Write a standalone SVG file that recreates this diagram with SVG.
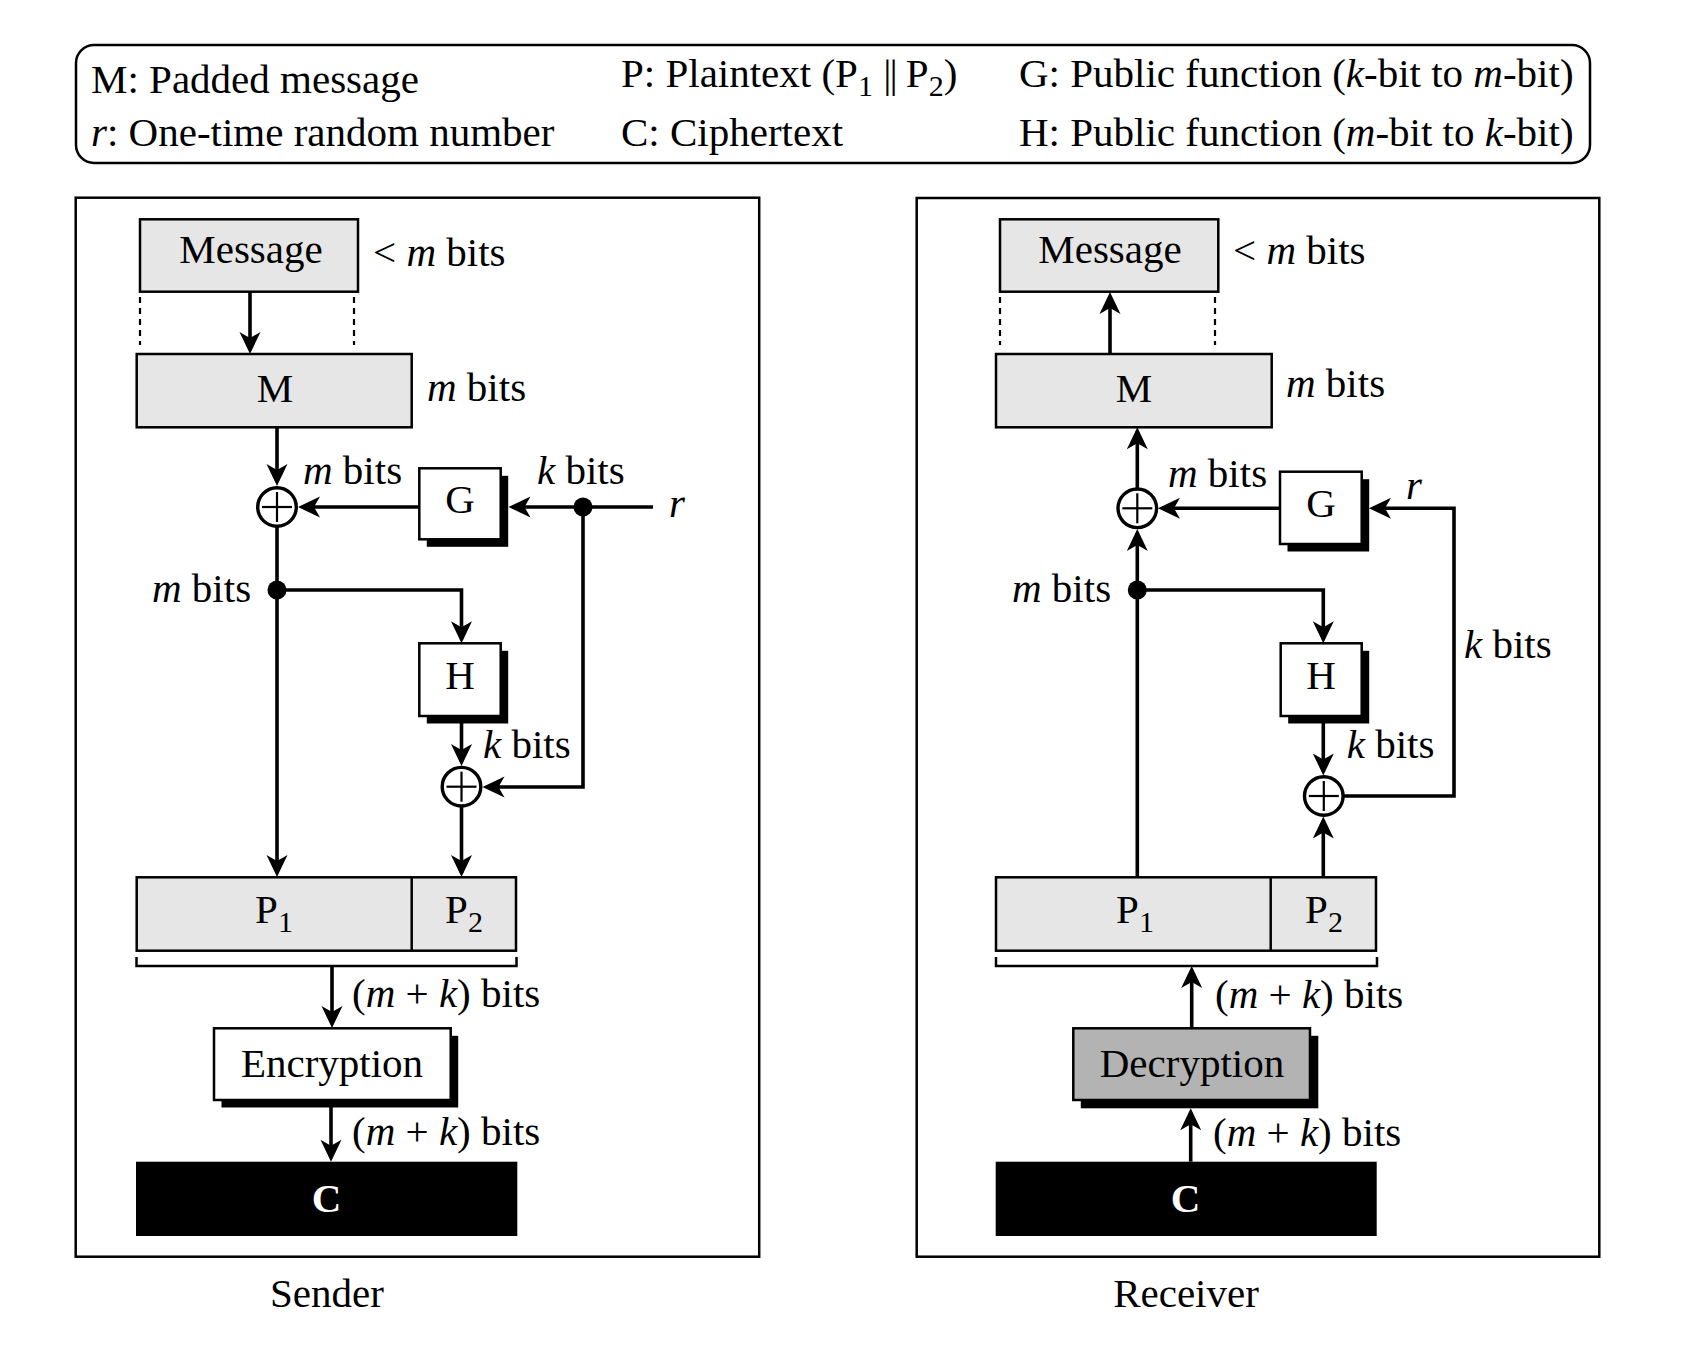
<svg xmlns="http://www.w3.org/2000/svg" width="1694" height="1348" viewBox="0 0 1694 1348">
<style>
.t{font-family:"Liberation Serif","Times New Roman",serif;font-size:41px;fill:#000}
.c{text-anchor:middle}
.i{font-style:italic}
.sub{font-size:30px}
.box{stroke:#000;stroke-width:2.5}
.gray{fill:#e6e6e6}
.wh{fill:#fff}
.conn{stroke:#000;stroke-width:3.6;fill:none}
.dash{stroke:#000;stroke-width:2.2;stroke-dasharray:6 5;fill:none}
.panel{fill:none;stroke:#000;stroke-width:2.5}
.xor{fill:#fff;stroke:#000;stroke-width:3.4}
.plus{stroke:#000;stroke-width:2.2}
</style>
<defs>
<marker id="ah" viewBox="-20 -12 26 24" refX="0" refY="0" markerWidth="26" markerHeight="24" markerUnits="userSpaceOnUse" orient="auto">
<path d="M4,0 L-18,-10.5 L-12,0 L-18,10.5 Z" fill="#000"/>
</marker>
<g id="xorsym">
<circle r="19.3" class="xor"/>
<line x1="-15" y1="0" x2="15" y2="0" class="plus"/>
<line x1="0" y1="-15" x2="0" y2="15" class="plus"/>
</g>
</defs>
<rect width="1694" height="1348" fill="#fff"/>

<g id="legend">
<rect x="76" y="45" width="1514" height="118" rx="18" ry="18" fill="none" stroke="#000" stroke-width="2.5"/>
<text class="t" x="91" y="93">M: Padded message</text>
<text class="t" x="91" y="146"><tspan class="i">r</tspan>: One-time random number</text>
<text class="t" x="621" y="87">P: Plaintext (P<tspan class="sub" dy="9">1</tspan><tspan dy="-9"> </tspan><tspan letter-spacing="-2">||</tspan> P<tspan class="sub" dy="9">2</tspan><tspan dy="-9">)</tspan></text>
<text class="t" x="621" y="146">C: Ciphertext</text>
<text class="t" x="1019" y="87">G: Public function (<tspan class="i">k</tspan>-bit to <tspan class="i">m</tspan>-bit)</text>
<text class="t" x="1019" y="146">H: Public function (<tspan class="i">m</tspan>-bit to <tspan class="i">k</tspan>-bit)</text>
</g>

<g id="sender-panel">
<rect x="75.7" y="197.7" width="683.5" height="1059" class="panel"/>
<text class="t c" x="327" y="1307">Sender</text>
</g>
<g id="receiver-panel">
<rect x="916.7" y="198" width="682.6" height="1058.7" class="panel"/>
<text class="t c" x="1186" y="1307">Receiver</text>
</g>

<g id="connectors">
<!-- sender -->
<line x1="140" y1="297" x2="140" y2="345" class="dash"/>
<line x1="354" y1="297" x2="354" y2="345" class="dash"/>
<line x1="250" y1="292" x2="250" y2="350" class="conn" marker-end="url(#ah)"/>
<line x1="277" y1="427" x2="277" y2="482" class="conn" marker-end="url(#ah)"/>
<line x1="419.3" y1="507" x2="302" y2="507" class="conn" marker-end="url(#ah)"/>
<line x1="653" y1="507" x2="512.5" y2="507" class="conn" marker-end="url(#ah)"/>
<line x1="277" y1="526" x2="277" y2="873" class="conn" marker-end="url(#ah)"/>
<path d="M277,590 H461.5 V639.3" class="conn" marker-end="url(#ah)"/>
<line x1="461.5" y1="716" x2="461.5" y2="762" class="conn" marker-end="url(#ah)"/>
<path d="M583,507 V787 H486.5" class="conn" marker-end="url(#ah)"/>
<line x1="461.5" y1="806" x2="461.5" y2="873" class="conn" marker-end="url(#ah)"/>
<path d="M136.5,957 V966 H516.5 V957" fill="none" stroke="#000" stroke-width="2.5"/>
<line x1="332" y1="966" x2="332" y2="1024" class="conn" marker-end="url(#ah)"/>
<line x1="331" y1="1100" x2="331" y2="1157.7" class="conn" marker-end="url(#ah)"/>
<!-- receiver -->
<line x1="1000" y1="297" x2="1000" y2="345" class="dash"/>
<line x1="1215" y1="297" x2="1215" y2="345" class="dash"/>
<line x1="1110" y1="354" x2="1110" y2="296" class="conn" marker-end="url(#ah)"/>
<line x1="1137.3" y1="489" x2="1137.3" y2="431.3" class="conn" marker-end="url(#ah)"/>
<line x1="1280" y1="508.3" x2="1162" y2="508.3" class="conn" marker-end="url(#ah)"/>
<path d="M1343,796 H1454 V508.3 H1373" class="conn" marker-end="url(#ah)"/>
<line x1="1137.3" y1="877" x2="1137.3" y2="533" class="conn" marker-end="url(#ah)"/>
<path d="M1137.3,590 H1323.3 V639.3" class="conn" marker-end="url(#ah)"/>
<line x1="1323.3" y1="716" x2="1323.3" y2="771.5" class="conn" marker-end="url(#ah)"/>
<line x1="1323.3" y1="877" x2="1323.3" y2="820.5" class="conn" marker-end="url(#ah)"/>
<path d="M996,957 V966 H1377 V957" fill="none" stroke="#000" stroke-width="2.5"/>
<line x1="1191.7" y1="1028.3" x2="1191.7" y2="970" class="conn" marker-end="url(#ah)"/>
<line x1="1190.7" y1="1161.7" x2="1190.7" y2="1112.3" class="conn" marker-end="url(#ah)"/>
</g>

<!-- sender nodes -->
<g id="s-message">
<rect x="140" y="219.3" width="218" height="72.4" class="box gray"/>
<text class="t c" x="251" y="263">Message</text>
<text class="t" x="373" y="266">&lt; <tspan class="i">m</tspan> bits</text>
</g>
<g id="s-M">
<rect x="136.7" y="354" width="275" height="73.3" class="box gray"/>
<text class="t c" x="275" y="401.5">M</text>
<text class="t" x="427" y="401"><tspan class="i">m</tspan> bits</text>
</g>
<g id="s-xor1">
<use href="#xorsym" x="277" y="507"/>
<text class="t" x="303" y="484"><tspan class="i">m</tspan> bits</text>
</g>
<g id="s-G">
<rect x="426.8" y="475.8" width="81.4" height="71" fill="#000"/>
<rect x="419.3" y="468.3" width="81.4" height="71" class="box wh"/>
<text class="t c" x="460" y="513.3">G</text>
</g>
<g id="s-r">
<circle cx="583" cy="507" r="9.5" fill="#000"/>
<text class="t" x="537" y="484"><tspan class="i">k</tspan> bits</text>
<text class="t i" x="669" y="517">r</text>
</g>
<g id="s-junction">
<circle cx="277" cy="590" r="9.5" fill="#000"/>
<text class="t" x="152" y="601.7"><tspan class="i">m</tspan> bits</text>
</g>
<g id="s-H">
<rect x="426.8" y="650.8" width="81.4" height="72.7" fill="#000"/>
<rect x="419.3" y="643.3" width="81.4" height="72.7" class="box wh"/>
<text class="t c" x="460" y="689.3">H</text>
<text class="t" x="483" y="758.3"><tspan class="i">k</tspan> bits</text>
</g>
<g id="s-xor2">
<use href="#xorsym" x="461.5" y="786.7"/>
</g>
<g id="s-P">
<rect x="136.7" y="877.3" width="379.3" height="73.4" class="box gray"/>
<line x1="411.7" y1="877.3" x2="411.7" y2="950.7" stroke="#000" stroke-width="2.5"/>
<text class="t c" x="274" y="922.7">P<tspan class="sub" dy="9">1</tspan></text>
<text class="t c" x="464" y="922.7">P<tspan class="sub" dy="9">2</tspan></text>
<text class="t" x="352" y="1006.7">(<tspan class="i">m</tspan> + <tspan class="i">k</tspan>) bits</text>
</g>
<g id="s-enc">
<rect x="221.5" y="1035.8" width="236.7" height="71.7" fill="#000"/>
<rect x="214" y="1028.3" width="236.7" height="71.7" class="box wh"/>
<text class="t c" x="332" y="1077.3">Encryption</text>
<text class="t" x="352" y="1145">(<tspan class="i">m</tspan> + <tspan class="i">k</tspan>) bits</text>
</g>
<g id="s-C">
<rect x="136" y="1161.7" width="381.3" height="74.3" fill="#000"/>
<text class="t c" x="326.5" y="1211.7" font-weight="bold" style="fill:#fff">C</text>
</g>

<!-- receiver nodes -->
<g id="r-message">
<rect x="1000" y="219.3" width="218.3" height="72.4" class="box gray"/>
<text class="t c" x="1110" y="263">Message</text>
<text class="t" x="1233" y="264">&lt; <tspan class="i">m</tspan> bits</text>
</g>
<g id="r-M">
<rect x="996" y="354" width="275.7" height="73.3" class="box gray"/>
<text class="t c" x="1134" y="401.7">M</text>
<text class="t" x="1286" y="397"><tspan class="i">m</tspan> bits</text>
</g>
<g id="r-xor1">
<use href="#xorsym" x="1137.3" y="508.3"/>
<text class="t" x="1168" y="486.7"><tspan class="i">m</tspan> bits</text>
</g>
<g id="r-G">
<rect x="1287.5" y="479.2" width="81.7" height="72.3" fill="#000"/>
<rect x="1280" y="471.7" width="81.7" height="72.3" class="box wh"/>
<text class="t c" x="1321" y="517">G</text>
<text class="t i" x="1406" y="499">r</text>
<text class="t" x="1464" y="658.3"><tspan class="i">k</tspan> bits</text>
</g>
<g id="r-junction">
<circle cx="1137.3" cy="590" r="9.5" fill="#000"/>
<text class="t" x="1012" y="601.7"><tspan class="i">m</tspan> bits</text>
</g>
<g id="r-H">
<rect x="1288.2" y="650.8" width="81" height="72.7" fill="#000"/>
<rect x="1280.7" y="643.3" width="81" height="72.7" class="box wh"/>
<text class="t c" x="1321" y="689.3">H</text>
<text class="t" x="1346.7" y="758.3"><tspan class="i">k</tspan> bits</text>
</g>
<g id="r-xor2">
<use href="#xorsym" x="1323.8" y="796"/>
</g>
<g id="r-P">
<rect x="996" y="877.3" width="380" height="73.4" class="box gray"/>
<line x1="1270.7" y1="877.3" x2="1270.7" y2="950.7" stroke="#000" stroke-width="2.5"/>
<text class="t c" x="1135" y="922.7">P<tspan class="sub" dy="9">1</tspan></text>
<text class="t c" x="1324" y="922.7">P<tspan class="sub" dy="9">2</tspan></text>
<text class="t" x="1215" y="1008.3">(<tspan class="i">m</tspan> + <tspan class="i">k</tspan>) bits</text>
</g>
<g id="r-dec">
<rect x="1080.8" y="1035.8" width="237.5" height="72.5" fill="#000"/>
<rect x="1073.3" y="1028.3" width="236.7" height="71.7" class="box" fill="#b3b3b3"/>
<text class="t c" x="1192" y="1077.3">Decryption</text>
<text class="t" x="1213" y="1146">(<tspan class="i">m</tspan> + <tspan class="i">k</tspan>) bits</text>
</g>
<g id="r-C">
<rect x="995.7" y="1161.7" width="381" height="74.3" fill="#000"/>
<text class="t c" x="1185.5" y="1211.7" font-weight="bold" style="fill:#fff">C</text>
</g>
</svg>
